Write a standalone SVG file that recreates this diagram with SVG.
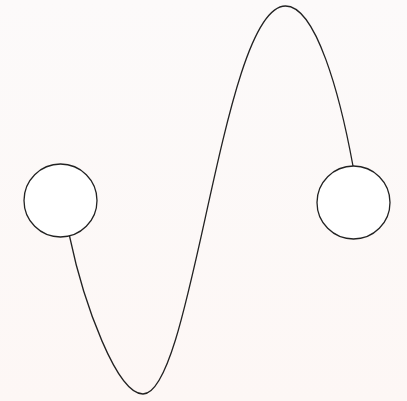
<svg xmlns="http://www.w3.org/2000/svg" width="407" height="401" viewBox="0 0 407 401">
<defs>
<linearGradient id="bg" x1="0" y1="0" x2="0" y2="1">
<stop offset="0" stop-color="#fcfafa"/>
<stop offset="1" stop-color="#fdf7f5"/>
</linearGradient>
<style>
.node{fill:#ffffff;stroke:#222222;stroke-width:1.3}
.edge{fill:none;stroke:#222222;stroke-width:1.3}
</style>
</defs>
<rect width="407" height="401" fill="url(#bg)"/>
<g id="connectors">
<path class="edge" d="M69.5,236 C84,305 117,394 143,394 C193,394 222,6 285.5,6 C316,6 340,95 353,166"/>
</g>
<g id="node-left"><circle class="node" cx="60.5" cy="200.5" r="36.5"/></g>
<g id="node-right"><circle class="node" cx="353.5" cy="202.5" r="36.5"/></g>
</svg>
